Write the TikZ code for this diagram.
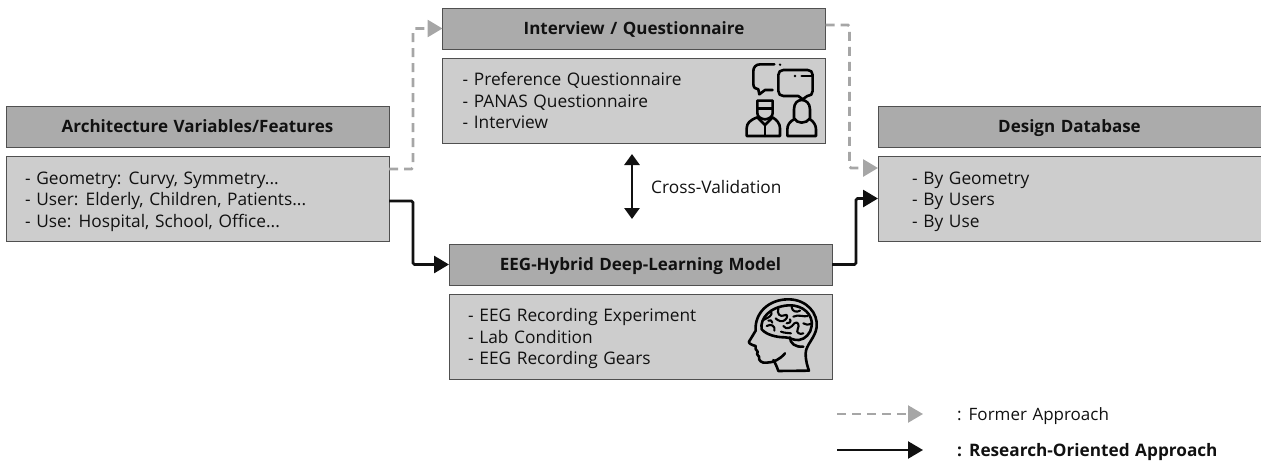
\documentclass[tikz,border=0pt]{standalone}
\usepackage{fontspec}
\setmainfont[WordSpace=1.25]{Open Sans}
\usetikzlibrary{arrows.meta,calc}
\definecolor{hdrfill}{HTML}{ABABAB}
\definecolor{bodyfill}{HTML}{CDCDCD}
\definecolor{edgegray}{HTML}{505050}
\definecolor{dashgray}{HTML}{A6A6A6}
\definecolor{inkblack}{HTML}{111111}
\tikzset{
  x=1pt,y=-1pt,
  hdrbox/.style={draw=edgegray,line width=1pt,fill=hdrfill,minimum width=383pt,minimum height=41pt,inner sep=0pt,outer sep=0pt,font=\fontsize{17}{20}\selectfont\bfseries,text=inkblack,text height=12pt,text depth=0pt},
  bodybox/.style={draw=edgegray,line width=1pt,fill=bodyfill,minimum width=383pt,minimum height=85pt,inner sep=0pt,outer sep=0pt},
  bodytext/.style={anchor=west,align=left,inner sep=0pt,font=\fontsize{17.3}{21.6}\selectfont,text=inkblack,yshift=-3pt},
  formerline/.style={draw=dashgray,line width=2.8pt,dash pattern=on 9pt off 6pt,-{Triangle[length=15pt,width=17pt,fill=dashgray]},rounded corners=1.5pt},
  researchline/.style={draw=inkblack,line width=2.8pt,-{Triangle[length=15pt,width=17pt,fill=inkblack]},rounded corners=1.5pt},
  iconline/.style={draw=black,line width=2.6pt,line cap=round,line join=round},
  iconthin/.style={draw=black,line width=2.1pt,line cap=round,line join=round},
}
\begin{document}
\begin{tikzpicture}
\useasboundingbox (0,0) rectangle (1261,466);
\node[hdrbox] (archhdr) at (197.5,126.5) {Architecture Variables/Features};
\node[bodybox] (archbody) at (197.5,198.5) {};
\node[bodytext] (archtext) at ([xshift=19pt]archbody.west) {- Geometry: Curvy, Symmetry...\\- User: Elderly, Children, Patients...\\- Use: Hospital, School, Office...};
\node[hdrbox] (inthdr) at (634,28.5) {Interview / Questionnaire};
\node[bodybox] (intbody) at (634,100.5) {};
\node[bodytext,yshift=3pt] (inttext) at ([xshift=20pt]intbody.west) {- Preference Questionnaire\\- PANAS Questionnaire\\- Interview};
\node[hdrbox] (eeghdr) at (640.5,264.5) {EEG-Hybrid Deep-Learning Model};
\node[bodybox] (eegbody) at (640.5,336.5) {};
\node[bodytext,yshift=1pt] (eegtext) at ([xshift=19pt]eegbody.west) {- EEG Recording Experiment\\- Lab Condition\\- EEG Recording Gears};
\node[hdrbox] (dbhdr) at (1069.5,126.5) {Design Database};
\node[bodybox] (dbbody) at (1069.5,198.5) {};
\node[bodytext] (dbtext) at ([xshift=34pt]dbbody.west) {- By Geometry\\- By Users\\- By Use};
% connectors
\draw[formerline] ([yshift=29.5pt]archbody.east) -- ++(24,0) |- (inthdr.west);
\draw[formerline] ([yshift=3.5pt]inthdr.east) -- ++(24,0) |- ([yshift=30.5pt]dbbody.west);
\draw[researchline] ([yshift=-2.5pt]archbody.east) -- ++(24,0) |- (eeghdr.west);
\draw[researchline] (eeghdr.east) -- ++(24,0) |- (dbbody.west);
% cross validation
\coordinate (cvtop) at (632,154);
\coordinate (cvbot) at (632,219);
\draw[draw=inkblack,line width=2.8pt,{Triangle[length=11pt,width=15pt,fill=inkblack]}-{Triangle[length=11pt,width=15pt,fill=inkblack]}] (cvtop) -- (cvbot);
\node[anchor=west,inner sep=0pt,font=\fontsize{17.3}{20}\selectfont,text=inkblack] (cvlabel) at (651,187) {Cross-Validation};
% legend
\coordinate (lga) at (837,414); \coordinate (lgb) at (923,414);
\coordinate (lgc) at (837,450); \coordinate (lgd) at (923,450);
\draw[formerline,line width=2.4pt] (lga) -- (lgb);
\draw[researchline,line width=2.4pt] (lgc) -- (lgd);
\node[anchor=west,inner sep=0pt,font=\fontsize{17}{20}\selectfont,text=inkblack] (lgformer) at (957,416) {: Former Approach};
\node[anchor=west,inner sep=0pt,font=\fontsize{17.2}{20}\selectfont\bfseries,text=inkblack] (lgresearch) at (957,452) {: Research-Oriented Approach};
% people icon
\begin{scope}[shift={(730,60)},x=0.3333pt,y=-0.3333pt]
 \draw[iconline] (133,13) -- (90,13) .. controls (78,13) and (70,22) .. (70,33) -- (70,72) .. controls (70,82) and (76,88) .. (85,88) -- (88,103) -- (105,90) -- (128,90);
 \fill (150,14) circle (4);
 \draw[iconline] (205,108) -- (160,108) .. controls (151,108) and (145,102) .. (145,93) -- (145,45) .. controls (145,36) and (151,30) .. (160,30) -- (233,30) .. controls (242,30) and (248,36) .. (248,45) -- (248,93) .. controls (248,102) and (242,108) .. (233,108) -- (232,108) -- (218,118) -- (205,108);
 \fill (195,48) circle (4);
 \draw[iconline] (215,48) -- (246,48);
 \draw[iconline] (82,122) -- (128,122) -- (128,160) .. controls (128,170) and (115,178) .. (105,178) .. controls (95,178) and (82,170) .. (82,160) -- cycle;
 \draw[iconline] (82,145) -- (128,145);
 \draw[iconline] (82,172) .. controls (60,180) and (50,190) .. (50,205) -- (50,228) -- (150,228) -- (150,205) .. controls (150,190) and (140,180) .. (128,172) -- (105,195) -- (82,172);
 \draw[iconline] (105,195) -- (105,228);
 \draw[iconline] (192,175) -- (192,148) .. controls (192,130) and (202,120) .. (215,120) .. controls (228,120) and (240,130) .. (240,148) -- (240,175) .. controls (235,183) and (225,188) .. (215,188) .. controls (205,188) and (197,183) .. (192,175);
 \draw[iconline] (192,178) .. controls (180,184) and (172,195) .. (172,208) -- (172,228) -- (258,228) -- (258,208) .. controls (258,195) and (250,184) .. (240,178);
\end{scope}
% head and brain icon
\begin{scope}[shift={(735,290)},x=0.3333pt,y=-0.3333pt]
 \draw[iconline] (150,190) .. controls (135,208) and (115,218) .. (95,218) .. controls (80,220) and (70,212) .. (72,200) .. controls (65,195) and (65,190) .. (68,185) .. controls (60,180) and (62,175) .. (62,168) .. controls (50,165) and (40,160) .. (42,155) -- (62,122) .. controls (58,70) and (100,28) .. (160,28) .. controls (215,28) and (250,70) .. (245,112) .. controls (240,145) and (212,165) .. (212,190) .. controls (212,215) and (218,230) .. (222,242) -- (130,243) .. controls (125,228) and (120,218) .. (115,210);
 \draw[iconline] (80,118) .. controls (74,85) and (105,50) .. (160,46) .. controls (205,44) and (235,75) .. (230,108) .. controls (228,130) and (210,148) .. (192,150) .. controls (175,152) and (165,142) .. (150,142) .. controls (125,142) and (95,135) .. (80,118) -- cycle;
 \draw[iconline] (165,142) .. controls (165,160) and (180,172) .. (205,170);
 \draw[iconthin] (108,62) .. controls (115,78) and (100,82) .. (85,90);
 \draw[iconthin] (130,55) .. controls (125,72) and (135,82) .. (148,76) .. controls (158,70) and (160,82) .. (150,90) .. controls (142,98) and (128,92) .. (122,85);
 \draw[iconthin] (95,108) .. controls (108,100) and (122,108) .. (118,122);
 \draw[iconthin] (170,52) .. controls (172,65) and (185,68) .. (195,62);
 \draw[iconthin] (175,80) .. controls (190,72) and (208,82) .. (218,78);
 \draw[iconthin] (145,108) .. controls (155,122) and (170,112) .. (178,100) .. controls (188,92) and (195,105) .. (188,118) .. controls (182,128) and (195,135) .. (205,130);
 \draw[iconthin] (138,125) .. controls (150,130) and (160,128) .. (168,130);
 \draw[iconthin] (205,100) .. controls (212,105) and (220,105) .. (228,102);
 \draw[iconthin] (165,88) .. controls (170,95) and (162,102) .. (155,100);
 \draw[iconthin] (100,92) .. controls (105,88) and (112,92) .. (112,98);
\end{scope}
\end{tikzpicture}
\end{document}
